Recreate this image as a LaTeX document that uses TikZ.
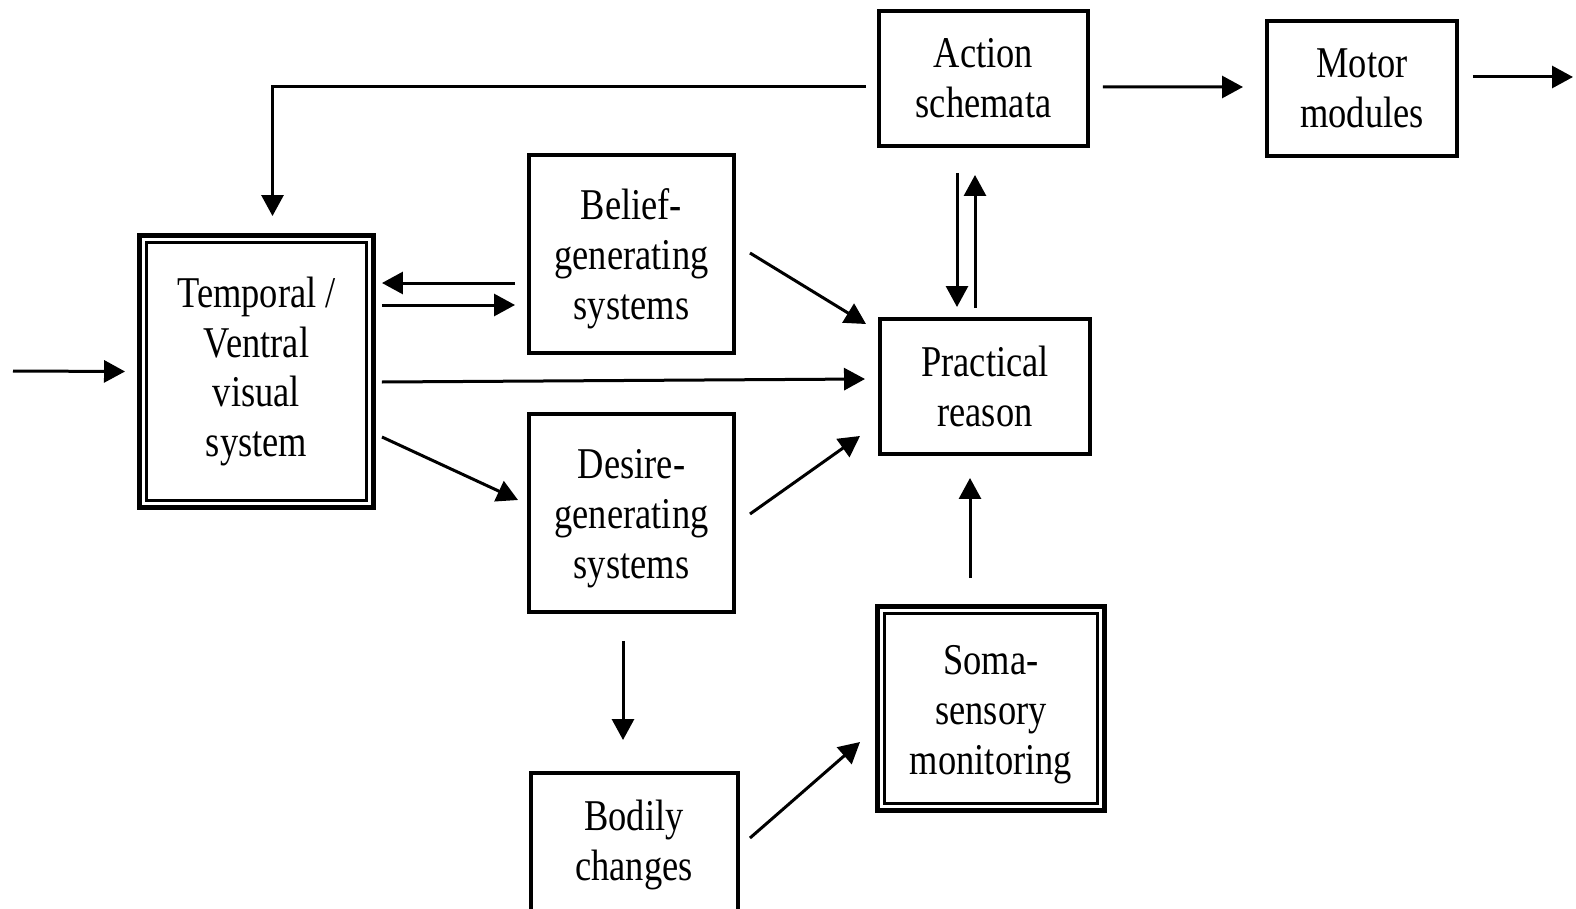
\documentclass[tikz,border=0pt]{standalone}
\usepackage{fontspec}
\setmainfont[FakeStretch=0.83]{Liberation Serif}
\usetikzlibrary{arrows.meta,calc}
\newcommand{\lowstrut}{\rule{0pt}{0.82cm}}
\begin{document}
\begin{tikzpicture}[x=0.02cm,y=-0.02cm,
  box/.style={draw, line width=0.07cm, outer sep=0pt, inner sep=0pt, align=center,
    font=\fontsize{25}{28.45}\selectfont},
  txt/.style={align=center, inner sep=0pt, font=\fontsize{25}{28.45}\selectfont},
  innerline/.style={line width=0.045cm},
  arr/.style={line width=0.06cm, -{Triangle[length=0.42cm,width=0.44cm]}}]
\useasboundingbox (0,0) rectangle (1576,909);
\clip (0,0) rectangle (1576,909);
% boxes
\node[box, line width=0.1cm, minimum width=4.7cm, minimum height=5.46cm] (temp) at (256.5,371.5) {Temporal /\\Ventral\\visual\\system};
\draw[innerline] ($(temp.north west)+(7.5,7.5)$) rectangle ($(temp.south east)+(-7.5,-7.5)$);
\node[box, minimum width=4.1cm, minimum height=3.96cm] (belief) at (631.5,254) {\lowstrut Belief-\\generating\\systems};
\node[box, minimum width=4.1cm, minimum height=3.96cm] (desire) at (631.5,513) {\lowstrut Desire-\\generating\\systems};
\node[box, minimum width=4.14cm, minimum height=3.14cm] (bodily) at (634.5,851.5) {};
\node[txt] (bodilytext) at (634,845) {Bodily\\changes};
\node[box, minimum width=4.18cm, minimum height=2.7cm] (action) at (983.5,78.5) {Action\\schemata};
\node[box, minimum width=3.8cm, minimum height=2.7cm] (motor) at (1362,88.5) {Motor\\modules};
\node[box, minimum width=4.2cm, minimum height=2.7cm] (practical) at (985,386.5) {Practical\\reason};
\node[box, line width=0.1cm, minimum width=4.56cm, minimum height=4.1cm] (soma) at (991,708.5) {\lowstrut Soma-\\sensory\\monitoring};
\draw[innerline] ($(soma.north west)+(7.5,7.5)$) rectangle ($(soma.south east)+(-7.5,-7.5)$);
% free ends
\coordinate (inp) at (13,371);
\coordinate (outp) at (1573,77);
% connectors
\draw[arr] (inp) -- ($(temp.west)+(-14,0)$);
\draw[arr] ($(action.west)+(-13,8)$) -| ($(temp.north)+(16,-19)$);
\draw[arr] ($(action.east)+(15,8.5)$) -- ($(motor.west)+(-24,-1.5)$);
\draw[arr] ($(motor.east)+(16,-11.5)$) -- (outp);
\draw[arr] ($(belief.west)+(-14,29)$) -- ($(temp.east)+(8,-88.5)$);
\draw[arr] ($(temp.east)+(8,-66.5)$) -- ($(belief.west)+(-14,51)$);
\draw[arr] ($(temp.east)+(8,10.5)$) -- ($(practical.west)+(-15,-7.5)$);
\draw[arr] ($(temp.east)+(8,65.5)$) -- ($(desire.west)+(-11,-13)$);
\draw[arr] ($(belief.east)+(16,-1)$) -- ($(practical.north west)+(-14,5)$);
\draw[arr] ($(desire.east)+(16,1)$) -- ($(practical.south west)+(-20,-18)$);
\draw[arr] ($(action.south)+(-26.5,27)$) -- ($(practical.north)+(-28,-12)$);
\draw[arr] ($(practical.north)+(-10,-11)$) -- ($(action.south)+(-8.5,29)$);
\draw[arr] ($(desire.south)+(-8.5,29)$) -- ($(bodily.north)+(-11.5,-33)$);
\draw[arr] ($(bodily.north east)+(12,65)$) -- ($(soma.west)+(-17,33.5)$);
\draw[arr] ($(soma.north)+(-21,-28)$) -- ($(practical.south)+(-15,24)$);
\end{tikzpicture}
\end{document}
